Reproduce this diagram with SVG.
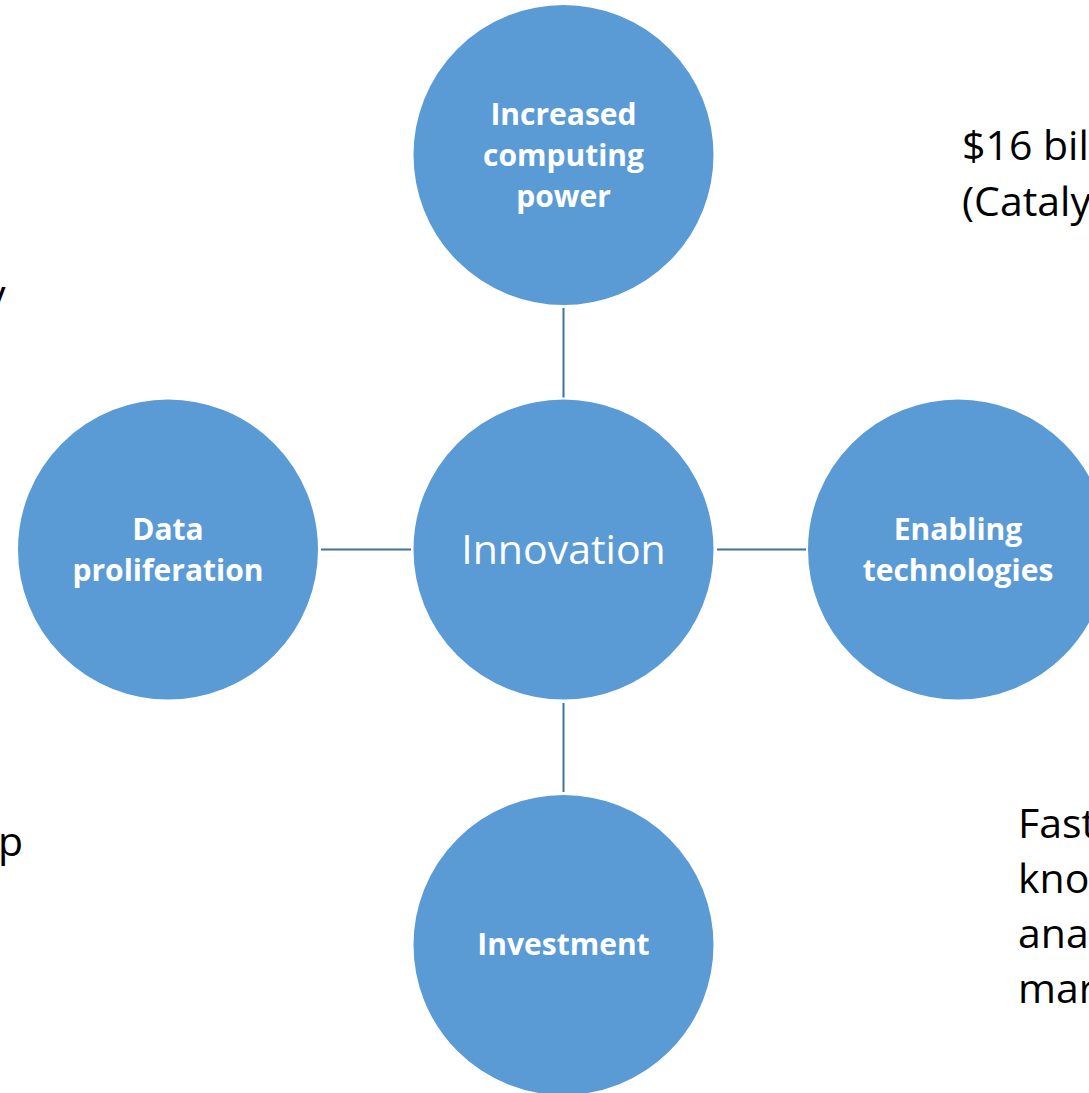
<svg xmlns="http://www.w3.org/2000/svg" width="1089" height="1093" viewBox="0 0 1089 1093">
  <style>
    .node { fill: #5B9BD5; stroke: #FFFFFF; stroke-width: 2; }
    .label { fill: #FFFFFF; font-family: "Open Sans", "Noto Sans", "Liberation Sans", sans-serif; font-weight: bold; font-size: 30px; text-anchor: middle; }
    .hub { fill: #FFFFFF; font-family: "Open Sans", "Noto Sans", "Liberation Sans", sans-serif; font-size: 41px; text-anchor: middle; }
    .note { fill: #000000; font-family: "Open Sans", "Noto Sans", "Liberation Sans", sans-serif; font-size: 41px; }
    .link { stroke: #41719C; stroke-width: 2; fill: none; }
  </style>
  <rect width="1089" height="1093" fill="#FFFFFF"/>

  <!-- side notes, running off the page edges -->
  <g id="notes">
    <text class="note" x="962" y="160">$16 bil</text>
    <text class="note" x="962" y="216">(Cataly</text>
    <text class="note" x="-15" y="309">y</text>
    <text class="note" x="-2" y="856">p</text>
    <text class="note" x="1018" y="838">Fast</text>
    <text class="note" x="1018" y="893">kno</text>
    <text class="note" x="1018" y="948">ana</text>
    <text class="note" x="1018" y="1003">mar</text>
  </g>

  <!-- spokes from the hub to each driver -->
  <g id="connectors">
    <line class="link" x1="563.5" y1="308" x2="563.5" y2="398"/>
    <line class="link" x1="321" y1="549.5" x2="411" y2="549.5"/>
    <line class="link" x1="717" y1="549.5" x2="806" y2="549.5"/>
    <line class="link" x1="563.5" y1="703" x2="563.5" y2="792"/>
  </g>

  <g id="innovation">
    <circle class="node" cx="563.5" cy="549.5" r="151"/>
    <text class="hub" x="563.5" y="564">Innovation</text>
  </g>

  <g id="computing-power">
    <circle class="node" cx="563.5" cy="155" r="151"/>
    <text class="label" x="563.5" y="125">Increased</text>
    <text class="label" x="563.5" y="166">computing</text>
    <text class="label" x="563.5" y="207">power</text>
  </g>

  <g id="data-proliferation">
    <circle class="node" cx="168" cy="549.5" r="151"/>
    <text class="label" x="168" y="540">Data</text>
    <text class="label" x="168" y="581">proliferation</text>
  </g>

  <g id="enabling-technologies">
    <circle class="node" cx="958" cy="549.5" r="151"/>
    <text class="label" x="958" y="540">Enabling</text>
    <text class="label" x="958" y="581">technologies</text>
  </g>

  <g id="investment">
    <circle class="node" cx="563.5" cy="945" r="151"/>
    <text class="label" x="563.5" y="955">Investment</text>
  </g>
</svg>
